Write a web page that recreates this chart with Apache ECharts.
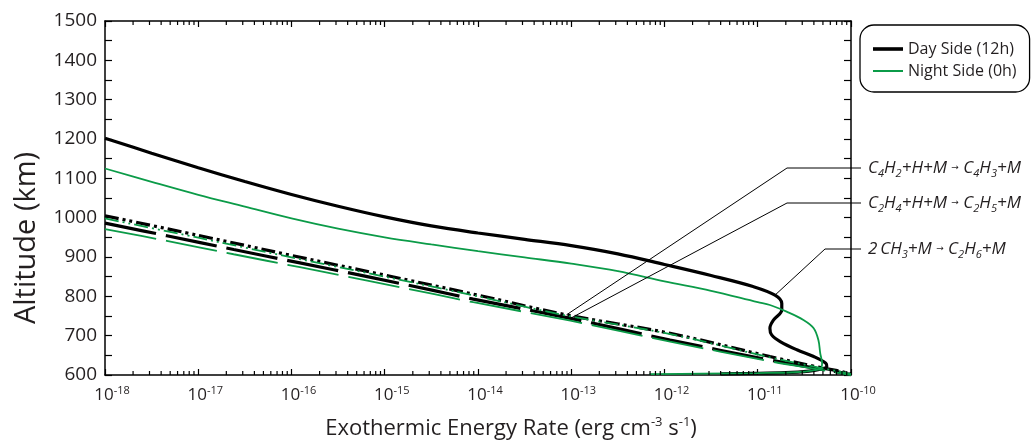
<!DOCTYPE html>
<html>
<head>
<meta charset="utf-8">
<script src="https://cdn.jsdelivr.net/npm/echarts@6/dist/echarts.min.js"></script>
<style>
  html, body { margin: 0; padding: 0; background: #fff; }
  #chart { width: 1035px; height: 443px; }
</style>
</head>
<body>
<div id="chart"></div>
<script>
// Exothermic energy rate profiles: [rate (erg cm^-3 s^-1), altitude (km)]

// 2 CH3 + M -> C2H6 + M
const dayCH3 = [
  [1.0e-18, 1202], [3.16e-18, 1164], [1.0e-17, 1127], [3.16e-17, 1092], [1.0e-16, 1059],
  [3.16e-16, 1029], [1.0e-15, 1002], [3.16e-15, 979], [1.0e-14, 961], [3.16e-14, 945],
  [1.0e-13, 929], [3.16e-13, 908], [1.0e-12, 881], [3.16e-12, 853], [8.9e-12, 825],
  [1.53e-11, 803], [1.81e-11, 782], [1.81e-11, 765], [1.48e-11, 740], [1.35e-11, 719],
  [1.41e-11, 702], [1.74e-11, 685], [2.63e-11, 664], [3.98e-11, 647], [5.37e-11, 630],
  [5.5e-11, 621], [4.68e-11, 615], [3.55e-11, 610], [2.0e-11, 606], [8.0e-12, 604],
  [4.0e-12, 603]
];
const nightCH3 = [
  [1.0e-18, 1125], [3.16e-18, 1091], [1.0e-17, 1058], [3.16e-17, 1028], [1.0e-16, 998],
  [3.16e-16, 972], [1.0e-15, 950], [3.16e-15, 932], [1.0e-14, 915], [3.16e-14, 899],
  [1.0e-13, 883], [3.16e-13, 864], [1.0e-12, 838], [3.16e-12, 814], [1.0e-11, 785],
  [1.35e-11, 778], [2.04e-11, 761], [3.09e-11, 740], [3.98e-11, 719], [4.47e-11, 689],
  [4.68e-11, 655], [4.9e-11, 630], [4.8e-11, 619], [3.98e-11, 612], [2.5e-11, 607],
  [1.0e-11, 605], [2.5e-12, 603.5], [6.9e-13, 602]
];

// C4H2 + H + M -> C4H3 + M
const dayC4H2 = [
  [1.0e-18, 1005], [1.0e-17, 955], [1.0e-16, 904], [1.0e-15, 854], [1.0e-14, 803],
  [8.9e-14, 753], [1.15e-12, 706], [1.35e-11, 647], [4.27e-11, 621], [7.1e-11, 611],
  [1.0e-10, 603]
];
const nightC4H2 = [
  [1.0e-18, 998], [1.0e-17, 949], [1.0e-16, 899], [1.0e-15, 850], [1.0e-14, 800],
  [8.9e-14, 751], [1.15e-12, 704], [1.35e-11, 645], [4.27e-11, 620], [7.1e-11, 610],
  [1.0e-10, 602]
];

// C2H4 + H + M -> C2H5 + M
const dayC2H4 = [
  [1.0e-18, 986], [4.6e-18, 954], [2.4e-17, 919], [1.23e-16, 885], [6.5e-16, 850],
  [3.3e-15, 815], [8.9e-15, 793], [9.8e-14, 744], [1.15e-12, 689], [1.35e-11, 638],
  [4.27e-11, 617], [7.1e-11, 608], [1.0e-10, 601]
];
const nightC2H4 = [
  [1.0e-18, 971], [4.6e-18, 941], [2.4e-17, 907], [1.23e-16, 874], [6.5e-16, 840],
  [3.3e-15, 806], [8.9e-15, 785], [9.8e-14, 738], [1.15e-12, 685], [1.35e-11, 635],
  [4.27e-11, 615], [7.1e-11, 606], [1.0e-10, 600]
];

// Axis ranges
const rateMin = 1e-18, rateMax = 1e-10;
const altMin = 600, altMax = 1500, altStep = 100;
const legendNames = ['Day Side (12h)', 'Night Side (0h)'];

// Reaction labels and the profile point each leader line points at
const reactions = [
  { parts: [['i','C'],['sb','4'],['i','H'],['sb','2'],['i','+H+M '],['ar','\u2192'],['i',' C'],['sb','4'],['i','H'],['sb','3'],['i','+M']], anchor: dayC4H2[5] },
  { parts: [['i','C'],['sb','2'],['i','H'],['sb','4'],['i','+H+M '],['ar','\u2192'],['i',' C'],['sb','2'],['i','H'],['sb','5'],['i','+M']], anchor: dayC2H4[7] },
  { parts: [['i','2\u2009CH'],['sb','3'],['i','+M '],['ar','\u2192'],['i',' C'],['sb','2'],['i','H'],['sb','6'],['i','+M']], anchor: dayCH3[15] }
];

// minor tick values 2..9 x 10^n on the log axis
const minorRates = [];
for (let e = -18; e < -10; e++) {
  for (let k = 2; k <= 9; k++) minorRates.push([k * Math.pow(10, e), altMin]);
}

const FONT = 'Open Sans';
const INK = '#231f20';
const BLACK = '#000000';
const GREEN = '#0b9b48';

const chart = echarts.init(document.getElementById('chart'), null, { renderer: 'canvas' });

const axisLine = { show: true, onZero: false, lineStyle: { color: BLACK, width: 1.5 } };

const lineSeries = (name, data, color, width, type, z) => ({
  name, type: 'line', data, smooth: 0.35, showSymbol: false, symbol: 'none',
  xAxisIndex: 0, yAxisIndex: 0, z,
  lineStyle: { color, width, type, cap: 'butt' },
  itemStyle: { color },
  silent: true, clip: true
});

const dddBlack = [14, 4, 3, 4, 3, 4];
const dddGreen = [14, 4, 2, 4, 2, 4];
const longDash = [52, 10];

chart.setOption({
  animation: false,
  backgroundColor: '#ffffff',
  textStyle: { fontFamily: FONT },
  grid: { left: 105, right: 184, top: 21, bottom: 68, containLabel: false },
  legend: {
    data: [
      { name: legendNames[0], icon: 'path://M0,0M30,16M0,6.2H30V9.8H0Z' },
      { name: legendNames[1], icon: 'path://M0,0M30,16M0,7H30V9H0Z' }
    ],
    orient: 'vertical',
    left: 860, top: 25,
    padding: [16, 13, 13, 13],
    itemGap: 6,
    itemWidth: 30, itemHeight: 16,
    borderColor: BLACK, borderWidth: 1.3, borderRadius: 14,
    backgroundColor: '#ffffff',
    selectedMode: false,
    textStyle: { fontFamily: FONT, fontSize: 16, color: INK, lineHeight: 16 }
  },
  xAxis: [
    {
      type: 'log', logBase: 10, min: rateMin, max: rateMax, splitNumber: 8,
      position: 'bottom',
      axisLine,
      axisTick: { show: true, inside: true, length: 6, lineStyle: { color: BLACK, width: 1.2 } },
      minorTick: { show: false },
      splitLine: { show: false },
      axisLabel: {
        margin: 10,
        padding: [0, 0, 0, 14],
        formatter: v => '{b|10}{s|' + Math.round(Math.log10(v)) + '}',
        rich: {
          b: { fontFamily: FONT, fontSize: 17, color: INK, lineHeight: 20 },
          s: { fontFamily: FONT, fontSize: 11, color: INK, lineHeight: 12, verticalAlign: 'top' }
        }
      }
    },
    {
      type: 'log', logBase: 10, min: rateMin, max: rateMax, splitNumber: 8,
      position: 'top',
      axisLine,
      axisTick: { show: true, inside: true, length: 6, lineStyle: { color: BLACK, width: 1.2 } },
      axisLabel: { show: false },
      splitLine: { show: false }
    }
  ],
  yAxis: [
    {
      type: 'value', min: altMin, max: altMax, interval: altStep,
      position: 'left',
      axisLine,
      axisTick: { show: true, inside: true, length: 7, lineStyle: { color: BLACK, width: 1.2 } },
      minorTick: { show: true, splitNumber: 2, length: 7, lineStyle: { color: BLACK, width: 1.2 } },
      splitLine: { show: false },
      axisLabel: { margin: 8, fontFamily: FONT, fontSize: 19, color: INK, formatter: v => String(v) }
    },
    {
      type: 'value', min: altMin, max: altMax, interval: altStep,
      position: 'right',
      axisLine,
      axisTick: { show: true, inside: true, length: 7, lineStyle: { color: BLACK, width: 1.2 } },
      minorTick: { show: true, splitNumber: 2, length: 7, lineStyle: { color: BLACK, width: 1.2 } },
      splitLine: { show: false },
      axisLabel: { show: false }
    }
  ],
  series: [
    lineSeries('C4H2 day', dayC4H2, BLACK, 3.2, dddBlack, 3),
    lineSeries('C2H4 day', dayC2H4, BLACK, 3.2, longDash, 3),
    lineSeries(legendNames[0], dayCH3, BLACK, 3.2, 'solid', 3),
    lineSeries('C4H2 night', nightC4H2, GREEN, 1.8, dddGreen, 4),
    lineSeries('C2H4 night', nightC2H4, GREEN, 1.8, longDash, 4),
    lineSeries(legendNames[1], nightCH3, GREEN, 1.8, 'solid', 4),
    {
      name: 'minor ticks', type: 'custom', data: minorRates, silent: true, z: 5,
      xAxisIndex: 0, yAxisIndex: 0,
      renderItem: (params, api) => {
        const v = api.value(0);
        const b = api.coord([v, altMin]);
        const t = api.coord([v, altMax]);
        const st = { stroke: BLACK, lineWidth: 1.2 };
        return {
          type: 'group',
          children: [
            { type: 'line', shape: { x1: b[0], y1: b[1], x2: b[0], y2: b[1] - 4 }, style: st },
            { type: 'line', shape: { x1: t[0], y1: t[1], x2: t[0], y2: t[1] + 4 }, style: st }
          ]
        };
      }
    }
  ]
});

// Axis titles and reaction labels with leader lines
const labelX = 868;
const leaderEndX = 861;
const leaderRows = [{ y: 168, elbowX: 787 }, { y: 203, elbowX: 787 }, { y: 249, elbowX: 825 }];

const richReaction = {
  i: { fontFamily: FONT, fontSize: 17, fontStyle: 'italic', fill: INK, lineHeight: 20 },
  sb: { fontFamily: FONT, fontSize: 11, fontStyle: 'italic', fill: INK, lineHeight: 8, verticalAlign: 'bottom' },
  ar: { fontFamily: 'DejaVu Sans', fontSize: 9, fill: INK, lineHeight: 22, verticalAlign: 'middle' }
};

const graphics = [];
reactions.forEach((r, idx) => {
  const row = leaderRows[idx];
  const p = chart.convertToPixel({ xAxisIndex: 0, yAxisIndex: 0 }, r.anchor);
  graphics.push({
    type: 'polyline', silent: true, z: 10,
    shape: { points: [[p[0], p[1]], [row.elbowX, row.y], [leaderEndX, row.y]] },
    style: { stroke: BLACK, lineWidth: 1, fill: null }
  });
  graphics.push({
    type: 'text', silent: true, z: 10, x: labelX, y: row.y,
    style: {
      text: r.parts.map(([k, t]) => '{' + k + '|' + t + '}').join(''),
      rich: richReaction, textAlign: 'left', textVerticalAlign: 'middle'
    }
  });
});

graphics.push({
  type: 'text', silent: true, x: 27, y: 238, rotation: Math.PI / 2,
  style: {
    text: 'Altitude (km)', fontFamily: FONT, fontSize: 29, fill: INK,
    textAlign: 'center', textVerticalAlign: 'middle'
  }
});
graphics.push({
  type: 'text', silent: true, x: 511, y: 429,
  style: {
    text: '{t|Exothermic Energy Rate (erg cm}{s|-3}{t| s}{s|-1}{t|)}',
    rich: {
      t: { fontFamily: FONT, fontSize: 22, fill: INK, lineHeight: 26 },
      s: { fontFamily: FONT, fontSize: 13, fill: INK, lineHeight: 14, verticalAlign: 'top' }
    },
    textAlign: 'center', textVerticalAlign: 'middle'
  }
});

chart.setOption({ graphic: graphics });
</script>
</body>
</html>
